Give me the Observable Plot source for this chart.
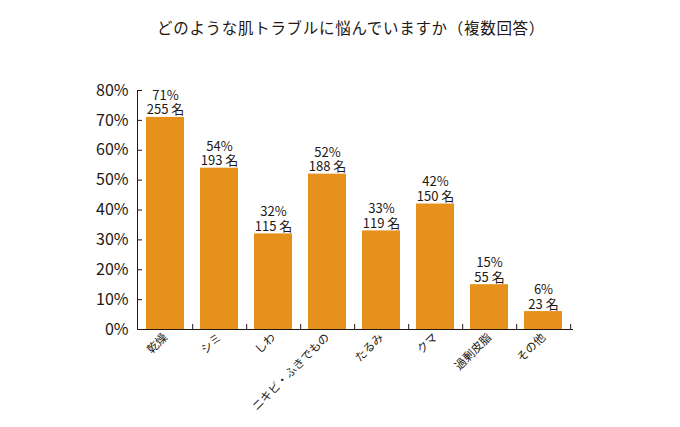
<!DOCTYPE html>
<html><head><meta charset="utf-8">
<script src="https://cdn.jsdelivr.net/npm/d3@7"></script>
<script src="https://cdn.jsdelivr.net/npm/@observablehq/plot@0.6"></script>
<style>
html,body{margin:0;padding:0;background:#fff;}
#wrap{position:relative;width:680px;height:427px;font-family:"Noto Sans CJK JP","Noto Sans",sans-serif;}
#title{position:absolute;left:0;width:680px;top:16px;text-align:center;font-size:15.5px;letter-spacing:0.7px;color:#231815;padding-left:22px;box-sizing:border-box;}
</style></head>
<body>
<div id="wrap"><div id="title">どのような肌トラブルに悩んでいますか（複数回答）</div></div>
<script>
const categories = ["乾燥","シミ","しわ","ニキビ・ふきでもの","たるみ","クマ","過剰皮脂","その他"];
const percents = [71,54,32,52,33,42,15,6];
const counts = [255,193,115,188,119,150,55,23];
const yTicks = [0,10,20,30,40,50,60,70,80];

const data = categories.map((c,i)=>({cat:c, pct:percents[i], n:counts[i]}));
const W = 680, H = 427, mL = 137, mR = 108, mT = 90, mB = 98;
const step = (W - mL - mR) / categories.length;
const ink = "#231815";

const chart = Plot.plot({
  width: W, height: H,
  marginLeft: mL, marginRight: mR, marginTop: mT, marginBottom: mB,
  style: {fontFamily: '"Noto Sans CJK JP","Noto Sans",sans-serif', color: ink, background: "transparent"},
  x: {domain: categories, paddingInner: 0.29, paddingOuter: 0.145, label: null},
  y: {domain: [0, 80], label: null},
  marks: [
    Plot.barY(data, {x: "cat", y: "pct", fill: "#E6911B"}),
    Plot.frame({anchor: "left", stroke: ink}),
    Plot.frame({anchor: "bottom", stroke: ink}),
    Plot.tickY(yTicks, {y: d => d, insetRight: (W - mL - mR) - 5, stroke: ink}),
    Plot.tickX(categories, {x: d => d, dx: step / 2, insetTop: (H - mT - mB) - 5, stroke: ink}),
    Plot.axisY({ticks: yTicks, tickSize: 0, tickPadding: 9, tickFormat: d => d + "%", fontSize: 16, fill: ink, label: null}),
    Plot.axisX({tickSize: 0, tickRotate: -45, tickPadding: 6, fontSize: 11.5, fill: ink, label: null}),
    Plot.text(data, {x: "cat", y: "pct", text: d => d.pct + "%\n" + d.n + " 名", lineAnchor: "bottom", dy: -3, fontSize: 13, fill: ink, lineHeight: 1.12})
  ]
});
document.getElementById("wrap").prepend(chart);
</script>
</body></html>
